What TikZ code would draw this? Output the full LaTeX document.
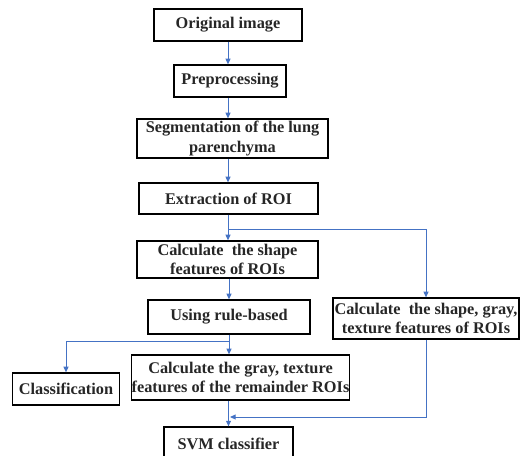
\documentclass[tikz,border=0pt]{standalone}
\usepackage{fontspec}
\setmainfont{Liberation Serif}
\usetikzlibrary{arrows.meta}

\definecolor{flowblue}{RGB}{68,114,196}

\tikzset{
  stepbox/.style={draw=black, line width=0.9pt, align=center, inner sep=0pt,
    font=\fontsize{11.6}{13.6}\selectfont\bfseries, text=black!85},
  flow/.style={draw=flowblue, line width=0.7pt, -{Triangle[length=4pt,width=3.5pt]}}
}

\begin{document}
\begin{tikzpicture}
        \useasboundingbox (0,0) rectangle (13.025,-11.375);
        \node[stepbox, minimum width=3.7cm, minimum height=0.8cm] (orig) at (5.7,-0.625) {Original image};
        \node[stepbox, minimum width=2.8cm, minimum height=0.8cm] (pre) at (5.75,-2.025) {Preprocessing};
        \node[stepbox, minimum width=4.775cm, minimum height=0.975cm] (seg) at (5.8125,-3.4625) {Segmentation of the lung\\parenchyma};
        \node[stepbox, minimum width=4.475cm, minimum height=0.775cm] (roi) at (5.7125,-4.9625) {Extraction of ROI};
        \node[stepbox, minimum width=4.525cm, minimum height=0.925cm] (shape) at (5.6875,-6.4875) {Calculate\ \ the shape\\features of ROIs};
        \node[stepbox, minimum width=4.05cm, minimum height=0.85cm] (rule) at (5.725,-7.925) {Using rule-based};
        \node[stepbox, minimum width=4.65cm, minimum height=1.025cm] (all) at (10.65,-7.9625) {Calculate\ \ the shape, gray,\\texture features of ROIs};
        \node[stepbox, minimum width=2.675cm, minimum height=0.8cm] (class) at (1.65,-9.725) {Classification};
        \node[stepbox, minimum width=5.325cm, minimum height=1.125cm] (rest) at (6.0125,-9.4375) {Calculate the gray, texture\\features of the remainder ROIs};
        \node[stepbox, minimum width=3.225cm, minimum height=0.825cm] (svm) at (5.7125,-11.0875) {SVM classifier};
        \coordinate (split) at (5.7,-5.725);
        \coordinate (split2) at (5.725,-8.525);
        \coordinate (merge) at (5.75,-10.425);
        \draw[flow] (orig.south) -- (orig.south |- pre.north);
        \draw[flow] (orig.south |- pre.south) -- (orig.south |- seg.north);
        \draw[flow] (orig.south |- seg.south) -- (orig.south |- roi.north);
        \draw[flow] (orig.south |- roi.south) -- (orig.south |- shape.north);
        \draw[flow] (split) -| (all.north);
        \draw[flow] (rule.south |- shape.south) -- (rule.north);
        \draw[flow] (rule.south) -- (rule.south |- rest.north);
        \draw[flow] (split2) -| (class.north);
        \draw[flow] (svm.north |- rest.south) -- (svm.north);
        \draw[flow] (all.south) |- (merge);
    \end{tikzpicture}
\end{document}
